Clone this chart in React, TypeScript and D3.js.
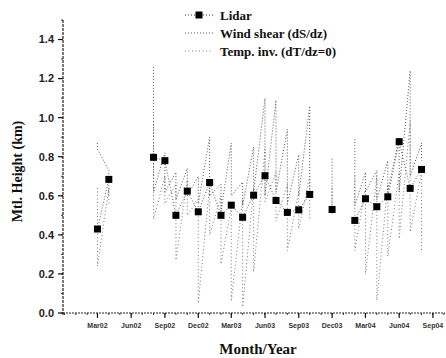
import { useEffect, useRef } from 'react';
import * as d3 from 'd3';

// months from Mar02 to Aug04 (index 0 = Mar 2002)
const months = [
  '2002-03', '2002-04', '2002-05', '2002-06', '2002-07', '2002-08', '2002-09', '2002-10',
  '2002-11', '2002-12', '2003-01', '2003-02', '2003-03', '2003-04', '2003-05', '2003-06',
  '2003-07', '2003-08', '2003-09', '2003-10', '2003-11', '2003-12', '2004-01', '2004-02',
  '2004-03', '2004-04', '2004-05', '2004-06', '2004-07', '2004-08',
];

const lidar = [
  0.43, 0.684, null, null, null, 0.797, 0.78, 0.50,
  0.624, 0.518, 0.668, 0.50, 0.552, 0.49, 0.603, 0.703,
  0.576, 0.515, 0.528, 0.607, null, 0.53, null, 0.474,
  0.585, 0.544, 0.595, 0.877, 0.638, 0.735,
];

const windHi = [
  0.87, 0.73, null, null, null, 1.26, 0.82, 0.72,
  0.74, 0.70, 0.90, 0.66, 0.87, 0.67, 0.85, 1.10,
  1.09, 0.94, 0.81, 1.06, null, 0.79, null, 0.89,
  0.72, 0.73, 0.78, 0.90, 1.24, 0.87,
];
const windLo = [
  0.84, 0.60, null, null, null, 0.62, 0.62, 0.58,
  0.60, 0.56, 0.60, 0.52, 0.60, 0.55, 0.62, 0.60,
  0.62, 0.56, 0.60, 0.62, null, 0.55, null, 0.55,
  0.62, 0.58, 0.62, 0.62, 0.70, 0.78,
];

const tempHi = [
  0.64, 0.64, null, null, null, 0.98, 0.70, 0.66,
  0.68, 0.58, 0.65, 0.60, 0.54, 0.58, 0.64, 0.84,
  0.72, 0.66, 0.62, 0.70, null, 0.64, null, 0.70,
  0.64, 0.70, 0.66, 0.72, 0.98, 0.72,
];
const tempLo = [
  0.24, 0.55, null, null, null, 0.48, 0.56, 0.27,
  0.50, 0.05, 0.40, 0.25, 0.06, 0.03, 0.21, 0.57,
  0.47, 0.32, 0.43, 0.47, null, 0.50, null, 0.32,
  0.20, 0.065, 0.29, 0.38, 0.415, 0.32,
];

const yTicks = [0, 0.2, 0.4, 0.6, 0.8, 1.0, 1.2, 1.4];

interface Pt { date: Date; v: number | null; }

const parseMonth = d3.timeParse('%Y-%m');

function rangePoints(hi: (number | null)[], lo: (number | null)[]): Pt[] {
  const pts: Pt[] = [];
  months.forEach((m, i) => {
    const date = parseMonth(m) as Date;
    pts.push({ date, v: hi[i] });
    pts.push({ date, v: lo[i] });
  });
  return pts;
}

export default function App() {
  const svgRef = useRef<SVGSVGElement>(null);
  const width = 446;
  const height = 358;

  useEffect(() => {
    if (!svgRef.current) return;
    const svg = d3.select(svgRef.current);
    svg.selectAll('*').remove();

    const margin = { top: 20, right: 1, bottom: 45, left: 63 };
    const w = width - margin.left - margin.right;
    const h = height - margin.top - margin.bottom;

    const g = svg.append('g').attr('transform', `translate(${margin.left},${margin.top})`);

    const x = d3.scaleTime()
      .domain([new Date(2001, 10, 27), new Date(2004, 9, 4)])
      .range([0, w]);
    const y = d3.scaleLinear().domain([0, 1.5]).range([h, 0]);

    // Axes: labelled ticks every 3 months from Mar02, minor ticks monthly
    const xMajor = d3.timeMonth.range(new Date(2002, 2, 1), new Date(2004, 9, 2), 3);
    const xMinor = d3.timeMonth.range(new Date(2001, 11, 1), new Date(2004, 9, 2));

    g.append('line').attr('x1', 0).attr('x2', w).attr('y1', h).attr('y2', h)
      .attr('stroke', '#222').attr('stroke-width', 1).attr('stroke-dasharray', '2,1');
    g.append('line').attr('x1', 0).attr('x2', 0).attr('y1', 0).attr('y2', h + 2)
      .attr('stroke', '#222').attr('stroke-width', 1.2).attr('stroke-dasharray', '3,1');

    g.selectAll('.xminor').data(xMinor).join('line')
      .attr('x1', d => x(d)).attr('x2', d => x(d)).attr('y1', h).attr('y2', h + 2)
      .attr('stroke', '#333');
    g.selectAll('.xmajor').data(xMajor).join('line')
      .attr('x1', d => x(d)).attr('x2', d => x(d)).attr('y1', h).attr('y2', h + 5)
      .attr('stroke', '#111').attr('stroke-width', 1.2);
    g.selectAll('.xlab').data(xMajor).join('text')
      .attr('x', d => x(d)).attr('y', h + 15)
      .attr('text-anchor', 'middle')
      .style('font-family', 'Arial, "Liberation Sans", sans-serif')
      .style('font-size', '7px').style('font-weight', 'bold').style('fill', '#333')
      .text(d => d3.timeFormat('%b%y')(d));

    const yMinor = d3.range(0, 1.51, 0.1);
    g.selectAll('.yminor').data(yMinor).join('line')
      .attr('x1', -2).attr('x2', 0).attr('y1', d => y(d)).attr('y2', d => y(d))
      .attr('stroke', '#333');
    g.selectAll('.ymajor').data(yTicks).join('line')
      .attr('x1', -5).attr('x2', 0).attr('y1', d => y(d)).attr('y2', d => y(d))
      .attr('stroke', '#111').attr('stroke-width', 1.2);
    g.selectAll('.ylab').data(yTicks).join('text')
      .attr('x', -9).attr('y', d => y(d)).attr('dy', '0.35em')
      .attr('text-anchor', 'end')
      .style('font-family', 'Arial, "Liberation Sans", sans-serif')
      .style('font-size', '11px').style('font-weight', 'bold').style('fill', '#222')
      .text(d => d.toFixed(1));

    // Series
    const line = d3.line<Pt>()
      .defined(d => d.v !== null)
      .x(d => x(d.date))
      .y(d => y(d.v as number));

    g.append('path').datum(rangePoints(tempHi, tempLo))
      .attr('fill', 'none').attr('stroke', '#777').attr('stroke-width', 1)
      .attr('stroke-dasharray', '1,2.5').attr('d', line);
    g.append('path').datum(rangePoints(windHi, windLo))
      .attr('fill', 'none').attr('stroke', '#555').attr('stroke-width', 1)
      .attr('stroke-dasharray', '1,2').attr('d', line);

    const lidarPts: Pt[] = months.map((m, i) => ({ date: parseMonth(m) as Date, v: lidar[i] }));
    g.append('path').datum(lidarPts)
      .attr('fill', 'none').attr('stroke', '#333').attr('stroke-width', 0.8)
      .attr('stroke-dasharray', '1,2').attr('d', line);
    g.selectAll('.sq').data(lidarPts.filter(d => d.v !== null)).join('rect')
      .attr('x', d => x(d.date) - 3.5).attr('y', d => y(d.v as number) - 3.5)
      .attr('width', 7).attr('height', 7).attr('fill', '#000');

    // Legend
    const legend = svg.append('g').attr('transform', 'translate(185,15)');
    const items = [
      { label: 'Lidar', stroke: '#333', dash: '1,2', marker: true },
      { label: 'Wind shear (dS/dz)', stroke: '#555', dash: '1,2', marker: false },
      { label: 'Temp. inv. (dT/dz=0)', stroke: '#777', dash: '1,2.5', marker: false },
    ];
    items.forEach((it, i) => {
      const row = legend.append('g').attr('transform', `translate(0,${i * 18})`);
      row.append('line').attr('x1', 0).attr('x2', 28).attr('y1', 0).attr('y2', 0)
        .attr('stroke', it.stroke).attr('stroke-dasharray', it.dash);
      if (it.marker) {
        row.append('rect').attr('x', 10.5).attr('y', -3.5).attr('width', 7).attr('height', 7).attr('fill', '#000');
      }
      row.append('text').attr('x', 35).attr('y', 0).attr('dy', '0.35em')
        .style('font-family', '"Liberation Serif", "Times New Roman", serif')
        .style('font-size', '13px').style('font-weight', 'bold').style('fill', '#111')
        .text(it.label);
    });

    // Axis titles
    svg.append('text')
      .attr('transform', `translate(22,${margin.top + h / 2 + 5}) rotate(-90)`)
      .attr('text-anchor', 'middle')
      .style('font-family', '"Liberation Serif", "Times New Roman", serif')
      .style('font-size', '14px').style('font-weight', 'bold').style('fill', '#111')
      .text('Mtl. Height (km)');
    svg.append('text')
      .attr('x', 258).attr('y', 354)
      .attr('text-anchor', 'middle')
      .style('font-family', '"Liberation Serif", "Times New Roman", serif')
      .style('font-size', '15px').style('font-weight', 'bold').style('fill', '#111')
      .text('Month/Year');
  }, []);

  return (
    <svg
      ref={svgRef}
      width={width}
      height={height}
      style={{ position: 'absolute', left: 0, top: 0, background: '#fff' }}
    />
  );
}
